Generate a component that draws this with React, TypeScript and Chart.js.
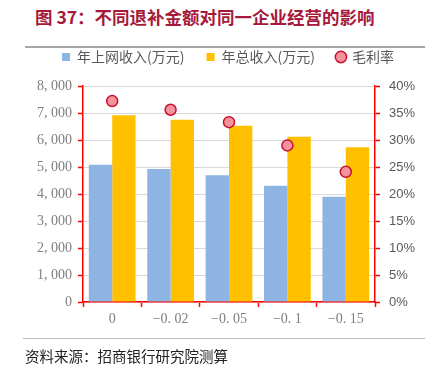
import React, { useEffect, useRef } from 'react';
import { Chart, registerables } from 'chart.js';

Chart.register(...registerables);

const categories = ['0', '−0. 02', '−0. 05', '−0. 1', '−0. 15'];
const onlineRevenue = [5085, 4926, 4692, 4307, 3900];
const totalRevenue = [6915, 6752, 6530, 6122, 5730];
const marginRate = [37.2, 35.6, 33.3, 29.0, 24.1];
const seriesNames = ['年上网收入(万元)', '年总收入(万元)', '毛利率'];

const titleText = '图 37：不同退补金额对同一企业经营的影响';
const sourceText = '资料来源：招商银行研究院测算';

const fmtThousands = (v: number) => {
  const s = String(Math.round(v));
  return s.length > 3 ? s.slice(0, s.length - 3) + ', ' + s.slice(-3) : s;
};

const legendSpacer = {
  id: 'legendSpacer',
  afterInit(chart: any) {
    const lg = chart.legend;
    if (!lg) return;
    const orig = lg.fit.bind(lg);
    lg.fit = function () {
      orig();
      this.height += 12;
    };
  },
};

export default function App() {
  const ref = useRef<HTMLCanvasElement | null>(null);

  useEffect(() => {
    if (!ref.current) return;
    const chart = new Chart(ref.current, {
      type: 'bar',
      plugins: [legendSpacer],
      data: {
        labels: categories,
        datasets: [
          {
            type: 'bar',
            label: seriesNames[0],
            data: onlineRevenue,
            backgroundColor: '#8DB4E2',
            borderWidth: 0,
            yAxisID: 'y',
            order: 1,
            categoryPercentage: 0.8,
            barPercentage: 1.0,
          },
          {
            type: 'bar',
            label: seriesNames[1],
            data: totalRevenue,
            backgroundColor: '#FFC000',
            borderWidth: 0,
            yAxisID: 'y',
            order: 1,
            categoryPercentage: 0.8,
            barPercentage: 1.0,
          },
          {
            type: 'line',
            label: seriesNames[2],
            data: marginRate,
            showLine: false,
            yAxisID: 'y1',
            order: 0,
            pointRadius: 5.5,
            pointBackgroundColor: '#F4939B',
            pointBorderColor: '#C8102E',
            pointBorderWidth: 1.5,
            backgroundColor: '#F4939B',
            borderColor: '#C8102E',
          },
        ],
      },
      options: {
        animation: false,
        responsive: false,
        maintainAspectRatio: false,
        layout: { padding: { top: 28, left: 22, right: 0, bottom: 36 } },
        plugins: {
          tooltip: { enabled: false },
          legend: {
            display: true,
            position: 'top',
            labels: {
              usePointStyle: true,
              boxWidth: 8,
              boxHeight: 8,
              padding: 22,
              color: '#595959',
              font: { family: '"Noto Sans CJK SC", sans-serif', size: 14 },
              generateLabels: (c: any) => {
                const items = Chart.defaults.plugins.legend.labels.generateLabels(c);
                items.sort((a: any, b: any) => a.datasetIndex - b.datasetIndex);
                items.forEach((it: any) => {
                  it.pointStyle = it.datasetIndex === 2 ? 'circle' : 'rect';
                  if (it.datasetIndex !== 2) it.lineWidth = 0;
                });
                return items;
              },
            },
          },
        },
        scales: {
          x: {
            grid: {
              display: true,
              drawOnChartArea: false,
              drawTicks: true,
              tickLength: 5,
              tickColor: '#FF0000',
              tickWidth: 1.5,
            },
            border: { display: true, color: '#FF0000', width: 1.5 },
            ticks: {
              color: '#7F7F7F',
              padding: 4,
              font: { family: '"Liberation Serif", serif', size: 14 },
            },
            afterFit: (s: any) => { s.height = 30; },
          },
          y: {
            position: 'left',
            min: 0,
            max: 8000,
            grid: {
              color: '#D9D9D9',
              lineWidth: 1,
              tickColor: '#FF0000',
              tickLength: 5,
              tickWidth: 1.5,
            },
            border: { display: true, color: '#FF0000', width: 1.5 },
            ticks: {
              stepSize: 1000,
              color: '#7F7F7F',
              padding: 6,
              font: { family: '"Liberation Serif", serif', size: 14 },
              callback: (v: any) => fmtThousands(Number(v)),
            },
            afterFit: (s: any) => { s.width = 61; },
          },
          y1: {
            position: 'right',
            min: 0,
            max: 40,
            grid: {
              drawOnChartArea: false,
              tickColor: '#FF0000',
              tickLength: 5,
              tickWidth: 1.5,
            },
            border: { display: true, color: '#FF0000', width: 1.5 },
            ticks: {
              stepSize: 5,
              color: '#595959',
              padding: 9,
              font: { family: '"Liberation Sans", sans-serif', size: 13 },
              callback: (v: any) => `${Math.round(Number(v))}%`,
            },
            afterFit: (s: any) => { s.width = 59; },
          },
        },
      },
    });
    return () => chart.destroy();
  }, []);

  return (
    <div style={{ position: 'absolute', left: 0, top: 0, width: 434, height: 368, background: '#fff', overflow: 'hidden' }}>
      <div
        style={{
          position: 'absolute',
          left: 35,
          top: 6,
          fontFamily: '"Noto Sans CJK SC", sans-serif',
          fontWeight: 'bold',
          fontSize: 17.5,
          lineHeight: '22px',
          color: '#A6193A',
          whiteSpace: 'nowrap',
        }}
      >
        {titleText}
      </div>
      <div style={{ position: 'absolute', left: 25, top: 46, width: 400, height: 2, background: '#A6A6A6' }} />
      <canvas ref={ref} width={434} height={368} style={{ position: 'absolute', left: 0, top: 0, width: 434, height: 368 }} />
      <div style={{ position: 'absolute', left: 23, top: 338, width: 402, height: 1, background: '#BFBFBF' }} />
      <div
        style={{
          position: 'absolute',
          left: 25,
          top: 346,
          fontFamily: '"Noto Sans CJK SC", sans-serif',
          fontSize: 14.5,
          lineHeight: '20px',
          color: '#222',
          whiteSpace: 'nowrap',
        }}
      >
        {sourceText}
      </div>
    </div>
  );
}
